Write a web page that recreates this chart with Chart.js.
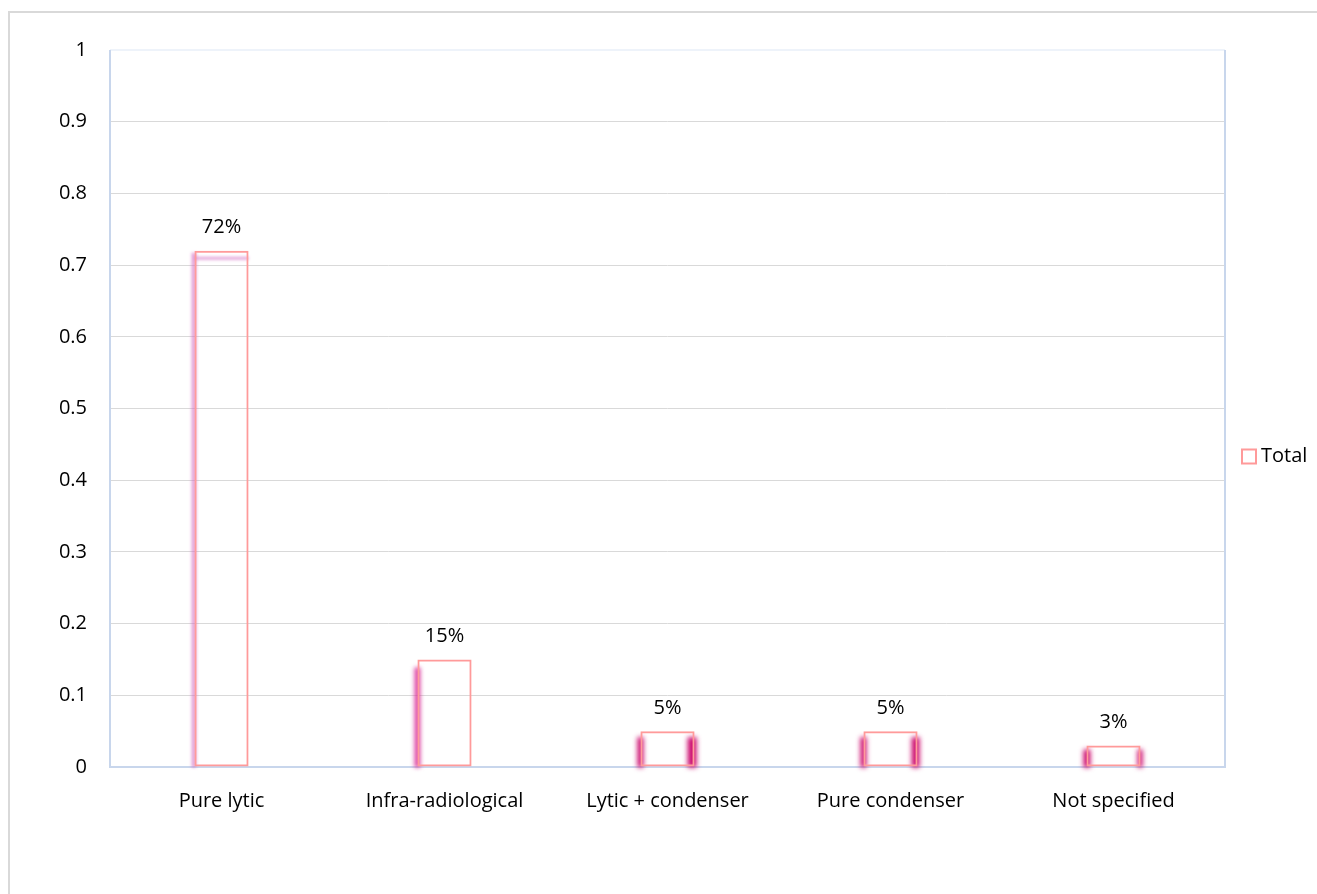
<!DOCTYPE html>
<html>
<head>
<meta charset="utf-8">
<script src="https://cdn.jsdelivr.net/npm/chart.js@4.4.1/dist/chart.umd.min.js"></script>
<style>
  html, body { margin: 0; padding: 0; background: #ffffff; }
  #wrap { width: 1317px; height: 894px; position: relative; }
</style>
</head>
<body>
<div id="wrap"><canvas id="c" width="1317" height="894"></canvas></div>
<script>
// Share of lesion types
const categories = ['Pure lytic', 'Infra-radiological', 'Lytic + condenser', 'Pure condenser', 'Not specified'];
const totalValues = [0.72, 0.15, 0.05, 0.05, 0.03];
const seriesName = 'Total';
const yTickValues = [0, 0.1, 0.2, 0.3, 0.4, 0.5, 0.6, 0.7, 0.8, 0.9, 1];
const yTickLabels = ['0', '0.1', '0.2', '0.3', '0.4', '0.5', '0.6', '0.7', '0.8', '0.9', '1'];

const FONT = '"Open Sans", Lato, sans-serif';
const FONT_SIZE = 20;
const BAR_COLOR = '#ff9a9a';

// Outer frame, plot-area border and legend
const framePlugin = {
  id: 'frame',
  beforeDraw(chart) {
    const { ctx } = chart;
    ctx.save();
    ctx.fillStyle = '#ffffff';
    ctx.fillRect(0, 0, chart.width, chart.height);
    ctx.strokeStyle = '#d9d9d9';
    ctx.lineWidth = 2;
    ctx.strokeRect(9, 12, chart.width + 20, chart.height + 20);
    ctx.restore();
  },
  beforeDatasetsDraw(chart) {
    const { ctx, chartArea: a } = chart;
    ctx.save();
    ctx.lineWidth = 2;
    ctx.strokeStyle = '#eef3fa';
    ctx.beginPath();
    ctx.moveTo(a.left, a.top); ctx.lineTo(a.right, a.top);
    ctx.stroke();
    ctx.strokeStyle = '#c8d6ec';
    ctx.beginPath();
    ctx.moveTo(a.left, a.top); ctx.lineTo(a.left, a.bottom);
    ctx.lineTo(a.right, a.bottom); ctx.lineTo(a.right, a.top);
    ctx.stroke();
    ctx.restore();
  },
  afterDraw(chart) {
    const { ctx, chartArea: a } = chart;
    ctx.save();
    const cy = (a.top + a.bottom) / 2 + 48;
    ctx.strokeStyle = BAR_COLOR;
    ctx.lineWidth = 2;
    ctx.strokeRect(a.right + 17, cy - 7, 14, 14);
    ctx.fillStyle = '#000000';
    ctx.font = FONT_SIZE + 'px ' + FONT;
    ctx.textBaseline = 'middle';
    ctx.textAlign = 'left';
    ctx.fillText(seriesName, a.right + 36, cy);
    ctx.restore();
  }
};

// Soft magenta edge shading on the bars
const glowPlugin = {
  id: 'barGlow',
  beforeDatasetsDraw(chart, args, opts) {
    const { ctx } = chart;
    const meta = chart.getDatasetMeta(0);
    ctx.save();
    meta.data.forEach((bar, i) => {
      const g = opts.edges[i];
      if (!g) return;
      const p = bar.getProps(['x', 'y', 'base', 'width'], true);
      const l = p.x - p.width / 2, r = p.x + p.width / 2;
      const top = p.y + g.inset, bottom = p.base + 1;
      ctx.fillStyle = g.color;
      ctx.filter = 'blur(' + g.blur + 'px)';
      if (g.left) ctx.fillRect(l - 3, top, g.left, bottom - top);
      if (g.right) ctx.fillRect(r - g.right + 2, top, g.right, bottom - top);
      if (g.top) ctx.fillRect(l, p.y + 6, p.width, g.top);
    });
    ctx.filter = 'none';
    ctx.restore();
  }
};

// Percentage labels above the bars
const labelPlugin = {
  id: 'valueLabels',
  afterDatasetsDraw(chart) {
    const { ctx } = chart;
    const meta = chart.getDatasetMeta(0);
    ctx.save();
    ctx.fillStyle = '#000000';
    ctx.font = FONT_SIZE + 'px ' + FONT;
    ctx.textAlign = 'center';
    ctx.textBaseline = 'middle';
    meta.data.forEach((bar, i) => {
      const v = chart.data.datasets[0].data[i];
      ctx.fillText(Math.round(v * 100) + '%', bar.x, bar.y - 23);
    });
    ctx.restore();
  }
};

new Chart(document.getElementById('c'), {
  type: 'bar',
  data: {
    labels: categories,
    datasets: [{
      label: seriesName,
      data: totalValues,
      backgroundColor: 'rgba(255,255,255,0)',
      borderColor: BAR_COLOR,
      borderWidth: 2,
      borderSkipped: false,
      categoryPercentage: 1,
      barPercentage: 0.243
    }]
  },
  options: {
    responsive: false,
    animation: false,
    devicePixelRatio: 1,
    layout: { padding: { top: 50, right: 92, left: 0, bottom: 0 } },
    plugins: {
      legend: { display: false },
      tooltip: { enabled: false },
      barGlow: {
        edges: [
          { left: 5, right: 0, inset: 2, blur: 1.5, color: 'rgba(205,95,190,0.55)', top: 3 },
          { left: 6, right: 0, inset: 8, blur: 2, color: 'rgba(215,40,150,0.85)' },
          { left: 6, right: 9, inset: 6, blur: 2.5, color: '#cc0a6e' },
          { left: 6, right: 8, inset: 6, blur: 2.5, color: '#cc0a6e' },
          { left: 7, right: 5, inset: 4, blur: 2.5, color: '#cc0a6e' }
        ]
      }
    },
    scales: {
      x: {
        grid: { display: false, drawTicks: false },
        border: { display: false },
        ticks: { color: '#000000', font: { family: FONT, size: FONT_SIZE }, padding: 22, maxRotation: 0 },
        afterFit(scale) { scale.height = 894 - 767; }
      },
      y: {
        min: 0,
        max: 1,
        afterBuildTicks(scale) { scale.ticks = yTickValues.map(v => ({ value: v })); },
        grid: { color: '#d9d9d9', lineWidth: 1, drawTicks: false },
        border: { display: false },
        ticks: {
          color: '#000000',
          font: { family: FONT, size: FONT_SIZE },
          padding: 23,
          callback: (v, i) => yTickLabels[i]
        },
        afterFit(scale) { scale.width = 110; }
      }
    }
  },
  plugins: [framePlugin, glowPlugin, labelPlugin]
});
</script>
</body>
</html>
